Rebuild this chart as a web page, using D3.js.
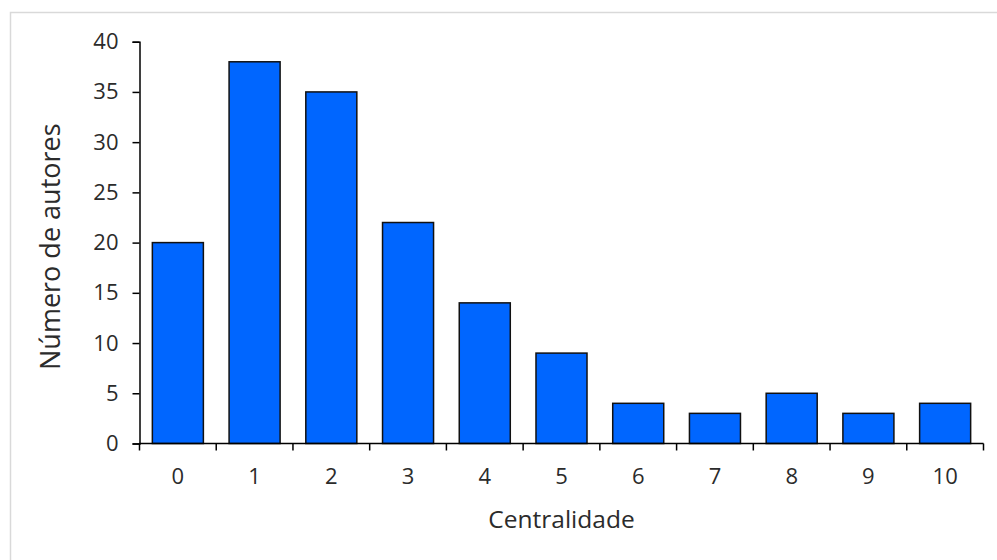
<!DOCTYPE html>
<html>
<head>
<meta charset="utf-8">
<script src="https://cdn.jsdelivr.net/npm/d3@7"></script>
<style>
  html, body { margin: 0; padding: 0; background: #fff; }
  svg { display: block; }
  text { font-family: "Open Sans", "Noto Sans", sans-serif; fill: #2b2b2b; }
</style>
</head>
<body>
<svg id="chart" width="997" height="560"></svg>
<script>
// Centralidade dos autores: número de autores por valor de centralidade
const categories = ["0", "1", "2", "3", "4", "5", "6", "7", "8", "9", "10"];
const authorCounts = [20, 38, 35, 22, 14, 9, 4, 3, 5, 3, 4];
const yTicks = [0, 5, 10, 15, 20, 25, 30, 35, 40];
const xTitle = "Centralidade";
const yTitle = "Número de autores";

const svg = d3.select("#chart");

// outer chart frame
svg.append("rect")
  .attr("x", 10.5).attr("y", 12.5)
  .attr("width", 1000).attr("height", 600)
  .attr("fill", "#fff")
  .attr("stroke", "#d9d9d9")
  .attr("stroke-width", 1.5);

const plot = { left: 139.5, right: 983.5, top: 41.7, bottom: 443.5 };

const x = d3.scaleBand()
  .domain(categories)
  .range([plot.left, plot.right])
  .paddingInner(0.335)
  .paddingOuter(0.1675);

const y = d3.scaleLinear()
  .domain([0, 40])
  .range([plot.bottom, plot.top]);

// bars
svg.append("g")
  .selectAll("rect")
  .data(authorCounts)
  .join("rect")
  .attr("x", (d, i) => x(categories[i]))
  .attr("y", d => y(d))
  .attr("width", x.bandwidth())
  .attr("height", d => y(0) - y(d))
  .attr("fill", "#0066ff")
  .attr("stroke", "#111")
  .attr("stroke-width", 1.5);

// y axis
const yAxis = svg.append("g")
  .attr("transform", `translate(${plot.left},0)`)
  .call(d3.axisLeft(y).tickValues(yTicks).tickSize(7).tickPadding(14));
yAxis.select(".domain").attr("stroke", "#000").attr("stroke-width", 1.5);
yAxis.selectAll(".tick line").attr("stroke", "#000").attr("stroke-width", 1.5);
yAxis.selectAll(".tick text")
  .attr("font-size", 22)
  .attr("font-family", "\"Open Sans\", sans-serif")
  .attr("fill", "#2b2b2b");

// x axis with ticks on band boundaries
const xAxisG = svg.append("g")
  .attr("transform", `translate(0,${plot.bottom})`);
xAxisG.append("line")
  .attr("x1", plot.left).attr("x2", plot.right)
  .attr("stroke", "#000").attr("stroke-width", 1.5);
const step = x.step();
const boundaries = categories.map((c, i) => plot.left + i * step).concat([plot.right]);
xAxisG.selectAll("line.tk")
  .data(boundaries)
  .join("line")
  .attr("class", "tk")
  .attr("x1", d => d).attr("x2", d => d)
  .attr("y1", 0).attr("y2", 7)
  .attr("stroke", "#000").attr("stroke-width", 1.5);
xAxisG.selectAll("text")
  .data(categories)
  .join("text")
  .attr("x", d => x(d) + x.bandwidth() / 2)
  .attr("y", 40.5)
  .attr("text-anchor", "middle")
  .attr("font-size", 22)
  .text(d => d);

// axis titles
svg.append("text")
  .attr("x", 561.5)
  .attr("y", 527.5)
  .attr("text-anchor", "middle")
  .attr("font-size", 24.5)
  .text(xTitle);

svg.append("text")
  .attr("transform", "translate(60,246.7) rotate(-90)")
  .attr("text-anchor", "middle")
  .attr("font-size", 27)
  .text(yTitle);
</script>
</body>
</html>
